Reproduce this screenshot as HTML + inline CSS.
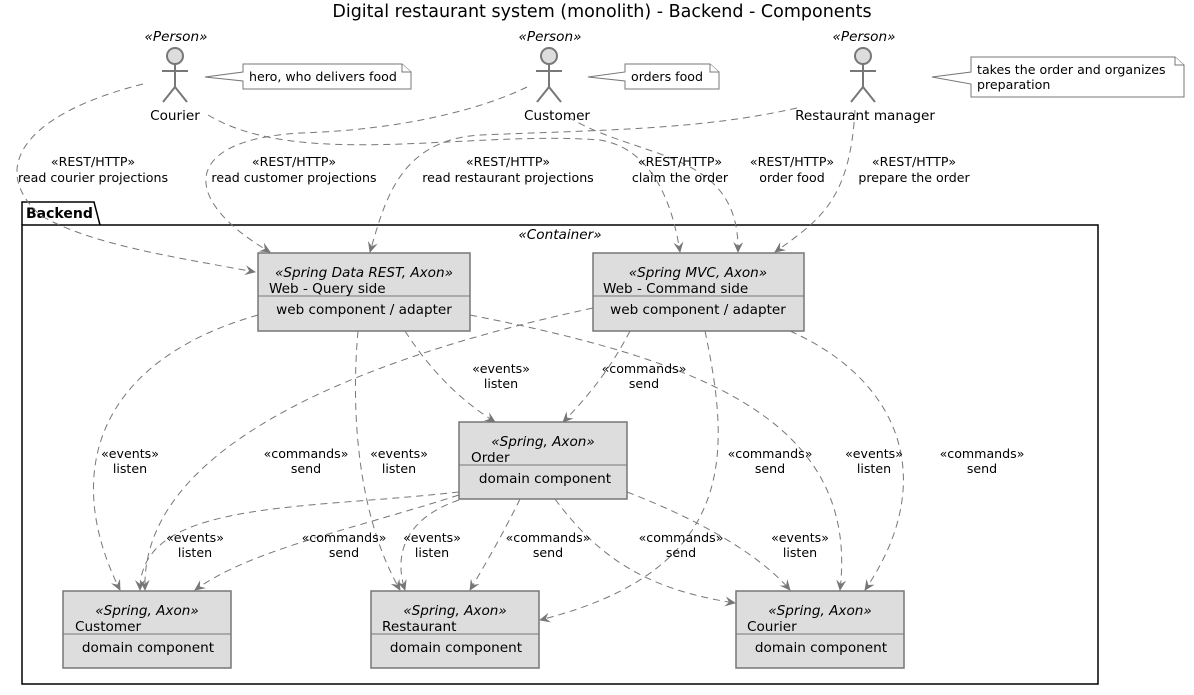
<!DOCTYPE html>
<html><head><meta charset="utf-8"><style>
html,body{margin:0;padding:0;background:#fff;}
svg{display:block;font-family:"DejaVu Sans","Liberation Sans",sans-serif;}
.l{font-size:12.6px;fill:#000;text-anchor:middle;}
.e{fill:none;stroke:#777;stroke-width:1;stroke-dasharray:7,5;}
.b{fill:#dddddd;stroke:#777;stroke-width:1.5;}
.st{font-size:13.6px;font-style:italic;text-anchor:middle;}
.nm{font-size:13.6px;}
</style></head><body>
<svg width="1194" height="695" viewBox="0 0 1194 695" xmlns="http://www.w3.org/2000/svg">
<defs><marker id="a" markerWidth="12" markerHeight="10" refX="10" refY="5" orient="auto" markerUnits="userSpaceOnUse"><path d="M0,0 L11,5 L0,10 L4,5 Z" fill="#777"/></marker></defs>
<text x="602" y="17" font-size="17.5" text-anchor="middle">Digital restaurant system (monolith) - Backend - Components</text>

<!-- package -->
<path d="M22,225 L22,202 L94,202 L100,225" fill="none" stroke="#000" stroke-width="1.5"/>
<rect x="22" y="225" width="1076" height="459" fill="none" stroke="#000" stroke-width="1.5"/>
<text x="26" y="218" font-size="14" font-weight="bold">Backend</text>
<text x="560" y="239" class="st" font-size="12.6">«Container»</text>

<!-- actors -->
<g stroke="#777" stroke-width="2" fill="#ddd">
<circle cx="175" cy="56" r="8"/><path d="M175,64 V87 M162,71 H188 M175,87 L163,102 M175,87 L187,102" fill="none"/>
<circle cx="549" cy="56" r="8"/><path d="M549,64 V87 M536,71 H562 M549,87 L537,102 M549,87 L561,102" fill="none"/>
<circle cx="863" cy="56" r="8"/><path d="M863,64 V87 M850,71 H876 M863,87 L851,102 M863,87 L875,102" fill="none"/>
</g>
<text x="176" y="41" class="st">«Person»</text><text x="175" y="120" class="nm" text-anchor="middle">Courier</text>
<text x="550" y="41" class="st">«Person»</text><text x="557" y="120" class="nm" text-anchor="middle">Customer</text>
<text x="864" y="41" class="st">«Person»</text><text x="865" y="120" class="nm" text-anchor="middle">Restaurant manager</text>

<!-- notes -->
<g fill="#fff" stroke="#777" stroke-width="1">
<path d="M243,64 H402 L411,72 V89 H243 V81 L205,77 L243,72 Z"/><path d="M402,64 V72 H411"/>
<path d="M625,64 H710 L719,72 V89 H625 V81 L588,77 L625,72 Z"/><path d="M710,64 V72 H719"/>
<path d="M971,57 H1175 L1184,65 V97 H971 V84 L932,77 L971,72 Z"/><path d="M1175,57 V65 H1184"/>
</g>
<text x="249" y="81" font-size="12.6">hero, who delivers food</text>
<text x="631" y="81" font-size="12.6">orders food</text>
<text x="977" y="74" font-size="12.6">takes the order and organizes</text>
<text x="977" y="89" font-size="12.6">preparation</text>

<!-- edges -->
<g class="e" marker-end="url(#a)">
<path d="M143,84 C20,115 -10,170 40,215 C90,245 180,258 255,272"/>
<path d="M527,87 C480,110 400,130 300,133 C180,140 180,200 270,252"/>
<path d="M797,108 C700,130 600,130 480,135 C400,140 385,200 370,252"/>
<path d="M208,115 C300,170 470,130 600,140 C660,150 675,220 680,252"/>
<path d="M568,117 C640,160 740,150 738,252"/>
<path d="M855,110 C850,200 820,220 775,252"/>
<path d="M258,315 C100,360 60,470 120,590"/>
<path d="M358,331 C350,420 360,520 400,590"/>
<path d="M405,331 C430,370 460,400 495,422"/>
<path d="M470,315 C700,360 860,420 840,590"/>
<path d="M593,308 C350,360 140,450 145,590"/>
<path d="M630,331 C610,370 585,400 563,422"/>
<path d="M705,331 C730,450 740,570 540,620"/>
<path d="M790,331 C900,380 940,480 865,590"/>
<path d="M459,492 C300,510 140,500 140,590"/>
<path d="M459,495 C350,530 250,550 195,590"/>
<path d="M459,500 C400,520 395,560 405,590"/>
<path d="M520,499 C505,530 485,565 470,590"/>
<path d="M555,499 C600,560 650,590 735,603"/>
<path d="M627,492 C700,520 760,555 790,590"/>
</g>

<!-- edge labels -->
<g class="l">
<text x="93" y="166">«REST/HTTP»</text><text x="93" y="182">read courier projections</text>
<text x="294" y="166">«REST/HTTP»</text><text x="294" y="182">read customer projections</text>
<text x="508" y="166">«REST/HTTP»</text><text x="508" y="182">read restaurant projections</text>
<text x="680" y="166">«REST/HTTP»</text><text x="680" y="182">claim the order</text>
<text x="792" y="166">«REST/HTTP»</text><text x="792" y="182">order food</text>
<text x="914" y="166">«REST/HTTP»</text><text x="914" y="182">prepare the order</text>
<text x="501" y="373">«events»</text><text x="501" y="388">listen</text>
<text x="644" y="373">«commands»</text><text x="644" y="388">send</text>
<text x="130" y="458">«events»</text><text x="130" y="473">listen</text>
<text x="306" y="458">«commands»</text><text x="306" y="473">send</text>
<text x="399" y="458">«events»</text><text x="399" y="473">listen</text>
<text x="770" y="458">«commands»</text><text x="770" y="473">send</text>
<text x="874" y="458">«events»</text><text x="874" y="473">listen</text>
<text x="982" y="458">«commands»</text><text x="982" y="473">send</text>
<text x="195" y="542">«events»</text><text x="195" y="557">listen</text>
<text x="344" y="542">«commands»</text><text x="344" y="557">send</text>
<text x="432" y="542">«events»</text><text x="432" y="557">listen</text>
<text x="548" y="542">«commands»</text><text x="548" y="557">send</text>
<text x="681" y="542">«commands»</text><text x="681" y="557">send</text>
<text x="800" y="542">«events»</text><text x="800" y="557">listen</text>
</g>

<!-- components -->
<g>
<rect class="b" x="258" y="253" width="212" height="78"/><line x1="258" y1="296" x2="470" y2="296" stroke="#777"/>
<text x="364" y="277" class="st">«Spring Data REST, Axon»</text><text x="269" y="293" class="nm">Web - Query side</text>
<text x="364" y="314" class="nm" text-anchor="middle">web component / adapter</text>

<rect class="b" x="593" y="253" width="211" height="78"/><line x1="593" y1="296" x2="804" y2="296" stroke="#777"/>
<text x="698" y="277" class="st">«Spring MVC, Axon»</text><text x="603" y="293" class="nm">Web - Command side</text>
<text x="698" y="314" class="nm" text-anchor="middle">web component / adapter</text>

<rect class="b" x="459" y="422" width="168" height="77"/><line x1="459" y1="465" x2="627" y2="465" stroke="#777"/>
<text x="543" y="446" class="st">«Spring, Axon»</text><text x="471" y="462" class="nm">Order</text>
<text x="545" y="483" class="nm" text-anchor="middle">domain component</text>

<rect class="b" x="63" y="591" width="168" height="77"/><line x1="63" y1="634" x2="231" y2="634" stroke="#777"/>
<text x="147" y="615" class="st">«Spring, Axon»</text><text x="75" y="631" class="nm">Customer</text>
<text x="148" y="652" class="nm" text-anchor="middle">domain component</text>

<rect class="b" x="371" y="591" width="168" height="77"/><line x1="371" y1="634" x2="539" y2="634" stroke="#777"/>
<text x="455" y="615" class="st">«Spring, Axon»</text><text x="382" y="631" class="nm">Restaurant</text>
<text x="456" y="652" class="nm" text-anchor="middle">domain component</text>

<rect class="b" x="736" y="591" width="168" height="77"/><line x1="736" y1="634" x2="904" y2="634" stroke="#777"/>
<text x="820" y="615" class="st">«Spring, Axon»</text><text x="747" y="631" class="nm">Courier</text>
<text x="821" y="652" class="nm" text-anchor="middle">domain component</text>
</g>
</svg>
</body></html>
